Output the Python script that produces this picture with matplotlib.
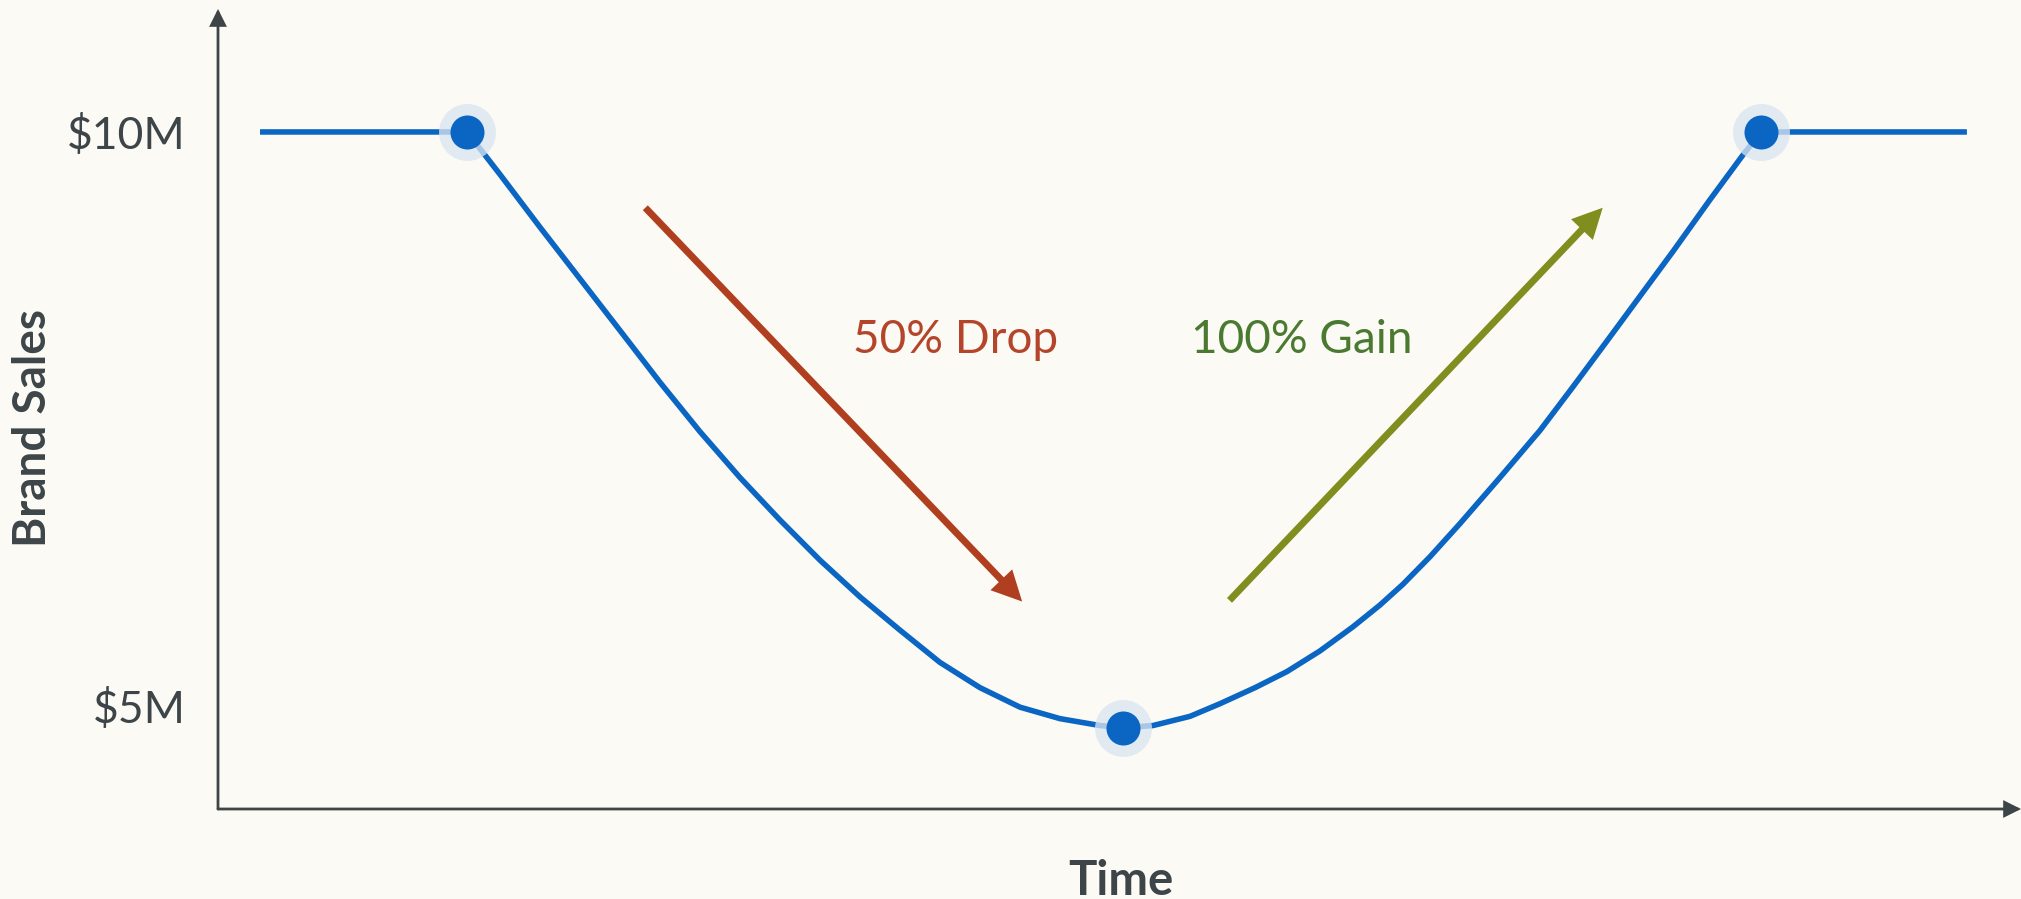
import matplotlib
matplotlib.use('Agg')
import matplotlib.pyplot as plt

plt.rcParams['font.family'] = ['Lato', 'DejaVu Sans']

# brand sales path over time ($M); time in arbitrary units 0-100
time = [2.33, 13.81, 15.64, 17.86, 20.08, 22.30, 24.51, 26.73, 28.95, 31.17, 33.39,
        35.61, 37.83, 40.04, 42.26, 44.48, 46.70, 48.92, 50.19,
        51.86, 53.91, 55.57, 57.52, 59.29, 61.12, 62.95, 64.45, 65.72, 67.22,
        68.89, 71.10, 73.32, 75.15, 77.04, 78.87, 80.70, 82.75, 84.58, 85.58, 97.00]
sales = [10.00, 10.00, 9.63, 9.17, 8.72, 8.27, 7.82, 7.39, 6.99, 6.62, 6.27,
         5.95, 5.66, 5.38, 5.16, 4.99, 4.89, 4.83, 4.81,
         4.83, 4.91, 5.02, 5.16, 5.30, 5.48, 5.69, 5.88, 6.06, 6.30,
         6.59, 6.99, 7.40, 7.78, 8.18, 8.57, 8.96, 9.41, 9.80, 10.00, 10.00]

# highlighted turning points
key_time = [13.81, 50.19, 85.58]
key_sales = [10.00, 4.81, 10.00]

ytick_vals = [5, 10]
ytick_labels = ['$5M', '$10M']

# annotation arrows: (tail, head)
drop_arrow = ((23.7, 9.34), (44.6, 5.91))
gain_arrow = ((56.1, 5.92), (76.8, 9.34))
drop_label = (40.9, 8.075, '50% Drop')
gain_label = (60.1, 8.075, '100% Gain')

bg = '#fcfaf5'
ink = '#3d4548'
blue = '#0a66c2'

fig = plt.figure(figsize=(20.21, 8.99), dpi=100, facecolor=bg)
ax = fig.add_axes([0.10787, 0.10011, 0.89213, 0.88988])
ax.set_facecolor(bg)
ax.set_xlim(0, 100)
ax.set_ylim(4.103, 11.071)

for s in ax.spines.values():
    s.set_visible(False)

# axis lines with arrow heads
axis_arrow = dict(arrowstyle='-|>', color=ink, lw=2.0, mutation_scale=24,
                  shrinkA=0, shrinkB=0, joinstyle='miter')
ax.annotate('', xy=(0, 1), xytext=(0, 0), xycoords='axes fraction',
            textcoords='axes fraction', arrowprops=axis_arrow, annotation_clip=False)
ax.annotate('', xy=(1, 0), xytext=(0, 0), xycoords='axes fraction',
            textcoords='axes fraction', arrowprops=axis_arrow, annotation_clip=False)

ax.plot(time, sales, color=blue, lw=4.0, solid_capstyle='butt',
        solid_joinstyle='round', zorder=2)
ax.plot(key_time, key_sales, 'o', ms=41, color='#d9e4f1', alpha=0.77, mew=0, zorder=3)
ax.plot(key_time, key_sales, 'o', ms=24.5, color=blue, mew=0, zorder=4)

for (tail, head), col in [(drop_arrow, '#b03f1f'), (gain_arrow, '#7f8e1e')]:
    ax.annotate('', xy=head, xytext=tail,
                arrowprops=dict(arrowstyle='-|>', color=col, lw=5.0,
                                mutation_scale=34, shrinkA=0, shrinkB=0,
                                joinstyle='miter', capstyle='butt'))

ax.text(drop_label[0], drop_label[1], drop_label[2], color='#b5452a', fontsize=33,
        ha='center', va='baseline')
ax.text(gain_label[0], gain_label[1], gain_label[2], color='#4a7a30', fontsize=33,
        ha='center', va='baseline')

ax.set_xticks([])
ax.set_yticks(ytick_vals)
ax.set_yticklabels(ytick_labels, fontsize=32, color=ink)
ax.tick_params(axis='y', length=0, pad=23)

fig.text(33 / 2021, 1 - 428 / 899, 'Brand Sales', rotation=90, ha='center', va='center',
         fontsize=33, fontweight='bold', color=ink)
fig.text(1121 / 2021, 1 - 895 / 899, 'Time', ha='center', va='baseline',
         fontsize=34, fontweight='bold', color=ink)

fig.savefig('out.png', dpi=100, facecolor=bg)
